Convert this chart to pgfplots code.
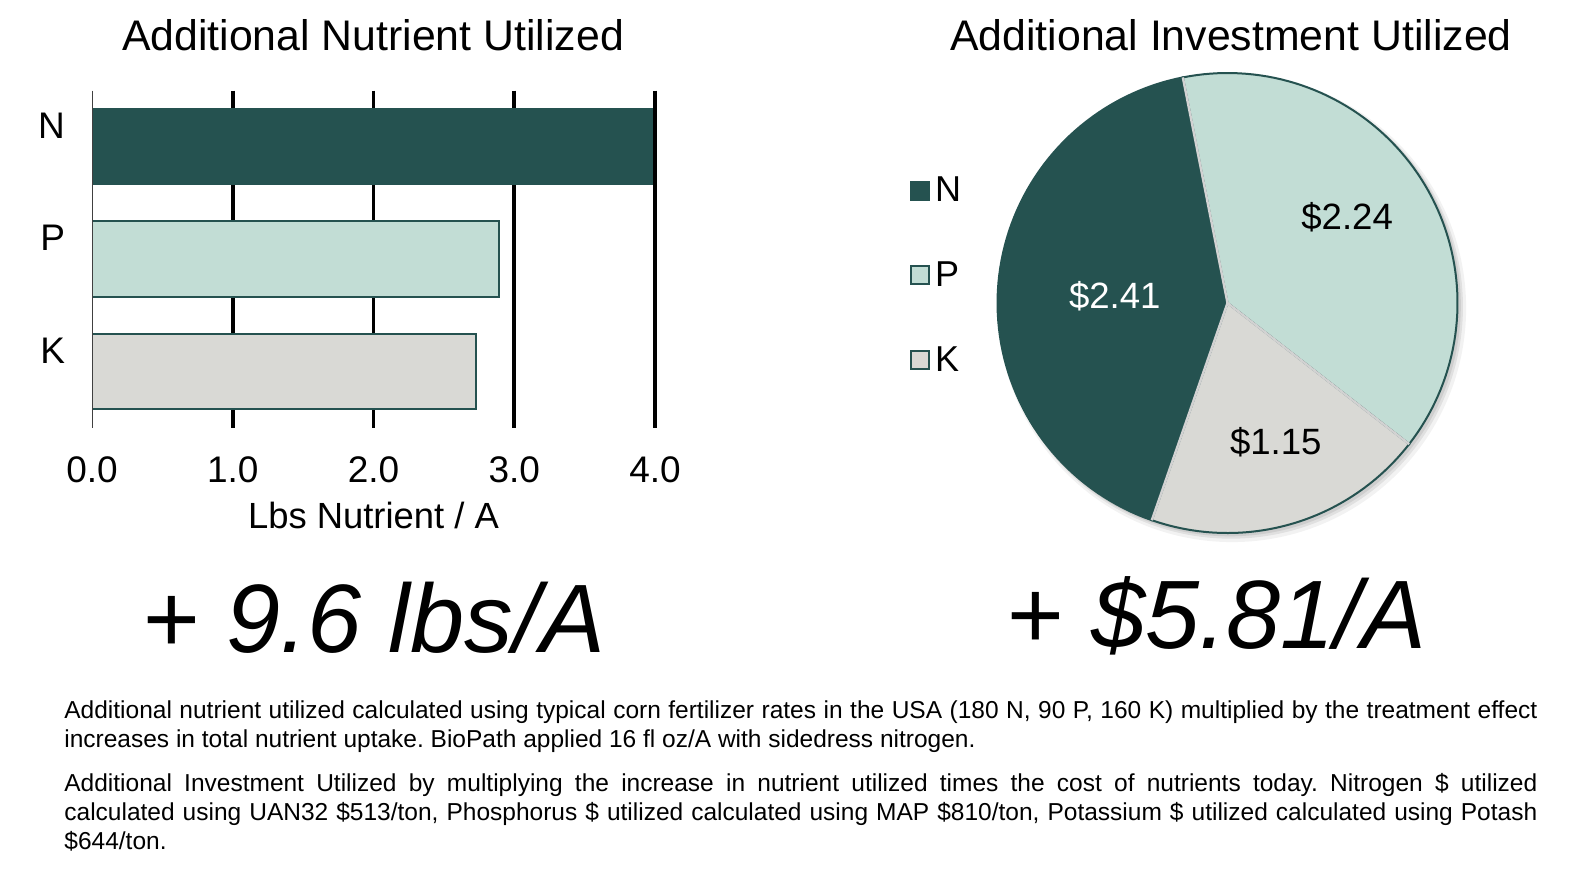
\documentclass[border=0pt]{standalone}
\usepackage{fontspec}
\setmainfont{Liberation Sans}
\usepackage{pgfplots}
\pgfplotsset{compat=1.18}
\definecolor{cdark}{HTML}{255250}
\definecolor{clight}{HTML}{C2DDD5}
\definecolor{cgray}{HTML}{D9D9D5}
\definecolor{cgap}{HTML}{D2D2D2}
\definecolor{caxis}{HTML}{404040}
\begin{document}
\frenchspacing
\begin{tikzpicture}
\useasboundingbox (0,0) rectangle (786pt,-440pt);
\fill[white] (0,0) rectangle (786pt,-440pt);
% ---------- bar chart ----------
\begin{axis}[
 at={(186.75pt,-129.5pt)}, anchor=center,
 scale only axis, width=281.5pt, height=168.5pt,
 xmin=0, xmax=4, ymin=-0.5, ymax=2.5, y dir=reverse,
 xbar, bar width=0.67, bar shift=0pt,
 ytick={0,1,2}, yticklabels={N,P,K},
 xtick={0,1,2,3,4},
 xticklabel style={/pgf/number format/fixed, /pgf/number format/fixed zerofill, /pgf/number format/precision=1, yshift=-11pt},
 /pgf/number format/assume math mode=true,
 axis line style={draw=none},
 major tick length=0pt,
 major grid style={black, line width=1.8pt},
 extra x ticks={1,2,3,4}, extra x tick labels={},
 extra x tick style={grid=major},
 tick label style={font=\fontsize{18.5}{22}\selectfont},
 yticklabel style={xshift=-10pt, yshift=10.5pt},
 xlabel={Lbs Nutrient / A},
 xlabel style={font=\fontsize{18.2}{22}\selectfont, yshift=-3pt},
]
\addplot[fill=cdark, draw=cdark, line width=1.1pt] coordinates {(3.98,0)};
\addplot[fill=clight, draw=cdark, line width=1.1pt] coordinates {(2.89,1)};
\addplot[fill=cgray, draw=cdark, line width=1.1pt] coordinates {(2.73,2)};
\draw[caxis, line width=1pt] (axis cs:0,-0.5) -- (axis cs:0,2.5);
\end{axis}
% ---------- pie chart ----------
\def\vN{2.41}\def\vP{2.24}\def\vK{1.15}
\pgfmathsetmacro\tot{\vN+\vP+\vK}
\pgfmathsetmacro\aS{101.2}
\pgfmathsetmacro\aNe{\aS+360*\vN/\tot}
\pgfmathsetmacro\aKe{\aNe+360*\vK/\tot}
\pgfmathsetmacro\aPs{\aKe-360}
\pgfmathsetmacro\cA{cos(\aS)}\pgfmathsetmacro\sA{sin(\aS)}
\pgfmathsetmacro\cB{cos(\aNe)}\pgfmathsetmacro\sB{sin(\aNe)}
\pgfmathsetmacro\cC{cos(\aKe)}\pgfmathsetmacro\sC{sin(\aKe)}
\begin{axis}[
 at={(613.75pt,-151.5pt)}, anchor=center,
 scale only axis, width=253pt, height=253pt,
 xmin=-1.1, xmax=1.1, ymin=-1.1, ymax=1.1,
 hide axis, clip=false,
 legend style={draw=none, fill=none, at={(-0.14,0.768)}, anchor=north west,
   font=\fontsize{18}{21}\selectfont, row sep=23.5pt,
   /tikz/every even column/.append style={column sep=2pt},
   nodes={inner sep=2.5pt}},
 legend cell align=left,
 legend image code/.code={\draw[#1,line width=1pt] (0pt,-4.5pt) rectangle (9pt,4.5pt);},
]
\fill[black, opacity=0.05] (axis cs:0.02,-0.022) circle[radius=117pt];
\fill[black, opacity=0.07] (axis cs:0.015,-0.016) circle[radius=116pt];
\fill[black, opacity=0.08] (axis cs:0.01,-0.01) circle[radius=115.5pt];
\addplot[fill=cdark, draw=cdark, line width=1pt, domain=\aS:\aNe, samples=80, variable=\t]
  ({cos(\t)},{sin(\t)}) -- (axis cs:0,0) -- cycle;
\addlegendentry{N}
\addplot[fill=clight, draw=cdark, line width=1pt, domain=\aPs:\aS, samples=80, variable=\t]
  ({cos(\t)},{sin(\t)}) -- (axis cs:0,0) -- cycle;
\addlegendentry{P}
\addplot[fill=cgray, draw=cdark, line width=1pt, domain=\aNe:\aKe, samples=60, variable=\t]
  ({cos(\t)},{sin(\t)}) -- (axis cs:0,0) -- cycle;
\addlegendentry{K}
\draw[cgap, line width=1.2pt] (axis cs:0,0) -- (axis cs:\cA,\sA);
\draw[cgap, line width=1.2pt] (axis cs:0,0) -- (axis cs:\cB,\sB);
\draw[cgap, line width=1.2pt] (axis cs:0,0) -- (axis cs:\cC,\sC);
\node[white, font=\fontsize{18.3}{21}\selectfont] at (axis cs:-0.49,0.03) {\$2.41};
\node[black, font=\fontsize{18.3}{21}\selectfont] at (axis cs:0.52,0.374) {\$2.24};
\node[black, font=\fontsize{18.3}{21}\selectfont] at (axis cs:0.21,-0.604) {\$1.15};
\end{axis}
% ---------- titles ----------
\node[anchor=base, font=\fontsize{21.4}{25}\selectfont, inner sep=0pt] at (186.5pt,-25pt) {Additional Nutrient Utilized};
\node[anchor=base, font=\fontsize{21.4}{25}\selectfont, inner sep=0pt] at (615.5pt,-25pt) {Additional Investment Utilized};
% ---------- big totals ----------
\node[anchor=base, font=\fontsize{48.6}{58}\selectfont, inner sep=0pt] at (187pt,-326pt) {+ \textit{9.6 lbs/A}};
\node[anchor=base, font=\fontsize{48.6}{58}\selectfont, inner sep=0pt] at (608.5pt,-324pt) {+ \textit{\$5.81/A}};
% ---------- footnote ----------
\node[anchor=base west, inner sep=0pt, text width=736.5pt, align=justify,
      font=\fontsize{12.25}{14.5}\selectfont] at (32pt,-359pt) {%
Additional nutrient utilized calculated using typical corn fertilizer rates in the USA (180 N, 90 P, 160 K) multiplied by the treatment effect\linebreak increases in total nutrient uptake. BioPath applied 16 fl oz/A with sidedress nitrogen.\par\vspace{7.5pt}
Additional Investment Utilized by multiplying the increase in nutrient utilized times the cost of nutrients today. Nitrogen \$ utilized\linebreak calculated using UAN32 \$513/ton, Phosphorus \$ utilized calculated using MAP \$810/ton, Potassium \$ utilized calculated using Potash\linebreak \$644/ton.};
\end{tikzpicture}
\end{document}
